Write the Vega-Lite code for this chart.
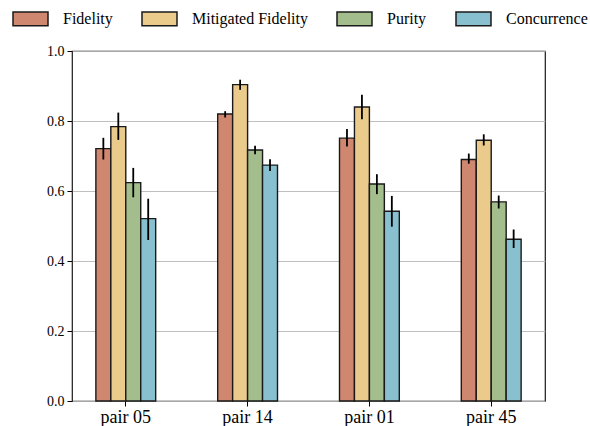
{
  "$schema": "https://vega.github.io/schema/vega-lite/v6.json",
  "width": 473,
  "height": 350,
  "autosize": {"type": "none"},
  "padding": {"left": 72, "top": 51, "right": 45, "bottom": 25},
  "background": "white",
  "config": {
    "view": {"stroke": "#1a1a1a", "strokeWidth": 1.2},
    "font": "Liberation Serif",
    "axis": {"labelFont": "Liberation Serif", "labelColor": "#000", "tickColor": "#000", "gridColor": "#b8b8b8", "gridWidth": 0.9, "domain": false, "title": null, "tickSize": 5, "tickWidth": 1}
  },
  "data": {
    "values": [
      {"pair": "pair 05", "series": "Fidelity", "value": 0.721, "lo": 0.690, "hi": 0.752},
      {"pair": "pair 05", "series": "Mitigated Fidelity", "value": 0.784, "lo": 0.746, "hi": 0.824},
      {"pair": "pair 05", "series": "Purity", "value": 0.624, "lo": 0.582, "hi": 0.666},
      {"pair": "pair 05", "series": "Concurrence", "value": 0.521, "lo": 0.460, "hi": 0.578},
      {"pair": "pair 14", "series": "Fidelity", "value": 0.820, "lo": 0.810, "hi": 0.828},
      {"pair": "pair 14", "series": "Mitigated Fidelity", "value": 0.904, "lo": 0.889, "hi": 0.918},
      {"pair": "pair 14", "series": "Purity", "value": 0.717, "lo": 0.705, "hi": 0.729},
      {"pair": "pair 14", "series": "Concurrence", "value": 0.674, "lo": 0.657, "hi": 0.691},
      {"pair": "pair 01", "series": "Fidelity", "value": 0.751, "lo": 0.727, "hi": 0.777},
      {"pair": "pair 01", "series": "Mitigated Fidelity", "value": 0.840, "lo": 0.805, "hi": 0.875},
      {"pair": "pair 01", "series": "Purity", "value": 0.620, "lo": 0.591, "hi": 0.648},
      {"pair": "pair 01", "series": "Concurrence", "value": 0.542, "lo": 0.498, "hi": 0.586},
      {"pair": "pair 45", "series": "Fidelity", "value": 0.690, "lo": 0.678, "hi": 0.707},
      {"pair": "pair 45", "series": "Mitigated Fidelity", "value": 0.745, "lo": 0.730, "hi": 0.762},
      {"pair": "pair 45", "series": "Purity", "value": 0.569, "lo": 0.550, "hi": 0.587},
      {"pair": "pair 45", "series": "Concurrence", "value": 0.462, "lo": 0.437, "hi": 0.490}
    ]
  },
  "encoding": {
    "x": {
      "field": "pair", "type": "nominal",
      "sort": ["pair 05", "pair 14", "pair 01", "pair 45"],
      "scale": {"paddingInner": 0.509, "paddingOuter": 0.196},
      "axis": {"labelAngle": 0, "labelFontSize": 18, "bandPosition": 0.5, "labelPadding": 2}
    },
    "xOffset": {
      "field": "series", "type": "nominal",
      "sort": ["Fidelity", "Mitigated Fidelity", "Purity", "Concurrence"],
      "scale": {"paddingInner": 0, "paddingOuter": 0}
    }
  },
  "layer": [
    {
      "mark": {"type": "bar", "stroke": "#1a1a1a", "strokeWidth": 1.4},
      "encoding": {
        "y": {
          "field": "value", "type": "quantitative",
          "scale": {"domain": [0, 1], "nice": false},
          "axis": {"values": [0, 0.2, 0.4, 0.6, 0.8, 1.0], "format": ".1f", "labelFontSize": 14, "labelPadding": 3}
        },
        "color": {
          "field": "series", "type": "nominal",
          "sort": ["Fidelity", "Mitigated Fidelity", "Purity", "Concurrence"],
          "scale": {"domain": ["Fidelity", "Mitigated Fidelity", "Purity", "Concurrence"], "range": ["#D08770", "#EBCB8B", "#A3BE8C", "#88C0D0"]},
          "legend": {
            "title": null,
            "orient": "none",
            "direction": "horizontal",
            "legendX": -60,
            "legendY": -51,
            "symbolType": "M-1,-0.386H1V0.386H-1Z",
            "symbolSize": 1225,
            "symbolStrokeColor": "#1a1a1a",
            "symbolStrokeWidth": 1.5,
            "symbolOpacity": 1,
            "labelFont": "Liberation Serif",
            "labelFontSize": 16,
            "labelColor": "#000",
            "labelOffset": 14,
            "columnPadding": 26,
            "labelLimit": 300
          }
        }
      }
    },
    {
      "mark": {"type": "rule", "color": "#000", "strokeWidth": 1.8},
      "encoding": {
        "y": {"field": "lo", "type": "quantitative"},
        "y2": {"field": "hi"}
      }
    }
  ]
}
